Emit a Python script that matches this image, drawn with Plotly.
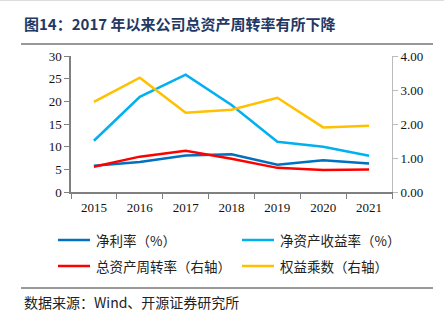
import plotly.graph_objects as go

years = ["2015", "2016", "2017", "2018", "2019", "2020", "2021"]
net_margin = [5.8, 6.6, 8.05, 8.3, 6.0, 7.0, 6.3]
roe = [11.3, 21.0, 25.9, 19.2, 11.1, 10.0, 8.0]
asset_turnover = [0.74, 1.04, 1.21, 0.98, 0.71, 0.65, 0.66]
equity_multiplier = [2.65, 3.36, 2.33, 2.42, 2.77, 1.90, 1.95]

names = ["净利率（%）", "净资产收益率（%）", "总资产周转率（右轴）", "权益乘数（右轴）"]
colors = ["#0070C0", "#00B0F0", "#FF0000", "#FFC000"]

W, H = 444, 323
L, R, T, B = 71, 52, 56, 131
PW, PH = W - L - R, H - T - B

cjk = "Noto Sans CJK SC"
serif = "Liberation Serif"

def px(x):
    return (x - L) / PW

def py(y):
    return 1 - (y - T) / PH

fig = go.Figure()
series = [net_margin, roe, asset_turnover, equity_multiplier]
axes = ["y", "y", "y2", "y2"]
for name, vals, col, ax in zip(names, series, colors, axes):
    fig.add_trace(go.Scatter(x=years, y=vals, name=name, mode="lines", yaxis=ax,
                             line=dict(color=col, width=2.5), showlegend=False))

fig.update_layout(
    width=W, height=H,
    margin=dict(l=L, r=R, t=T, b=B),
    paper_bgcolor="white", plot_bgcolor="white",
    font=dict(family=serif, size=13, color="#222"),
    xaxis=dict(type="category", range=[-0.5, 6.5], showgrid=False, showline=True,
               linecolor="#808080", linewidth=1.5,
               ticks="outside", tickson="boundaries", ticklen=5, tickcolor="#808080",
               ticklabelstandoff=3,
               tickfont=dict(family=serif, size=13, color="#111")),
    yaxis=dict(range=[0, 30], dtick=5, showgrid=False, zeroline=False, showline=True,
               linecolor="#808080", linewidth=1.5, ticks="outside", ticklen=5, tickcolor="#808080",
               tickfont=dict(family=serif, size=13, color="#111")),
    yaxis2=dict(range=[0, 4], dtick=1, overlaying="y", side="right", showgrid=False, zeroline=False,
                showline=True, linecolor="#bbbbbb", linewidth=1, ticks="outside", ticklen=5,
                tickcolor="#bbbbbb", tickformat=".2f",
                tickfont=dict(family=serif, size=13, color="#111")),
    showlegend=False,
)

# manual legend
leg_pos = [(58, 240), (242, 240), (58, 266), (242, 266)]
for (lx, ly), name, col in zip(leg_pos, names, colors):
    fig.add_shape(type="line", xref="paper", yref="paper",
                  x0=px(lx), x1=px(lx + 32), y0=py(ly), y1=py(ly),
                  line=dict(color=col, width=2.5))
    fig.add_annotation(text=name, xref="paper", yref="paper", x=px(lx + 36), y=py(ly),
                       xanchor="left", yanchor="middle", showarrow=False,
                       font=dict(family=cjk, size=13.5, color="#222"))

fig.add_annotation(text="<b>图14：2017 年以来公司总资产周转率有所下降</b>", xref="paper", yref="paper",
                   x=px(22), y=py(23), xanchor="left", yanchor="middle",
                   showarrow=False, font=dict(family=cjk, size=15, color="#1F3864"))
fig.add_annotation(text="数据来源：Wind、开源证券研究所", xref="paper", yref="paper",
                   x=px(22), y=py(302), xanchor="left", yanchor="middle",
                   showarrow=False, font=dict(family=cjk, size=14, color="#222"))

def hline(ypix, color, width, x0=21, x1=433):
    fig.add_shape(type="line", xref="paper", yref="paper",
                  x0=px(x0), x1=px(x1), y0=py(ypix), y1=py(ypix),
                  line=dict(color=color, width=width))

hline(44, "#999999", 2)
hline(288, "#333333", 1)
hline(0.5, "#dddddd", 1, 0, 444)

fig.write_html("out.html")
